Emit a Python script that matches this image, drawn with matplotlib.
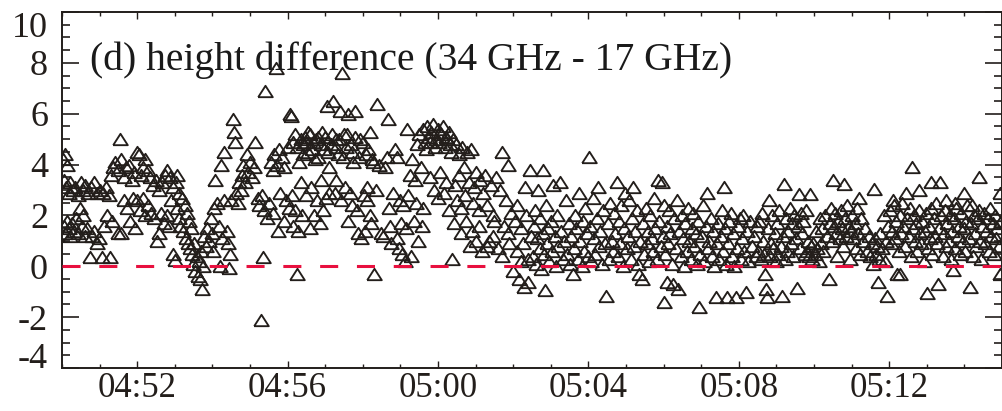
import numpy as np
import matplotlib
matplotlib.use("Agg")
import matplotlib.pyplot as plt
import matplotlib.dates as mdates

# -------------------------------
# Data: (minutes after 04:50, height difference)
# -------------------------------
start_time = np.datetime64("2000-01-01T04:50:00")

seg_0450 = [
    (0.03, 4.2), (0.08, 4.4), (0.14, 4.0), (0.05, 3.4), (0.10, 3.1), (0.18, 2.9), (0.22, 3.3),
    (0.28, 3.0), (0.35, 3.1), (0.42, 2.8), (0.50, 3.3), (0.56, 3.0), (0.62, 3.2), (0.70, 2.9),
    (0.78, 3.1), (0.85, 3.3), (0.92, 2.9), (1.00, 3.0), (1.10, 2.9), (1.18, 3.1), (1.25, 2.8),
    (0.04, 1.6), (0.09, 1.3), (0.12, 1.8), (0.18, 1.5), (0.22, 1.2), (0.27, 1.7), (0.32, 1.4),
    (0.38, 1.9), (0.42, 1.3), (0.48, 2.3), (0.52, 1.6), (0.56, 2.0), (0.60, 1.2), (0.66, 1.5),
    (0.74, 0.35), (0.80, 1.2), (0.86, 1.4), (0.92, 0.9), (0.98, 1.1), (1.06, 0.35), (1.12, 1.6),
    (1.20, 2.0), (1.28, 0.35), (1.32, 1.8),
    (1.30, 3.6), (1.35, 3.9), (1.42, 4.1), (1.48, 3.8), (1.54, 5.0), (1.58, 4.2), (1.65, 3.5),
    (1.70, 3.9), (1.78, 4.0), (1.85, 3.4), (1.92, 3.7), (2.00, 4.5), (2.05, 4.4), (2.10, 3.6),
    (2.15, 3.9), (2.22, 4.2), (2.28, 3.8), (2.35, 3.5), (2.42, 3.2), (2.50, 3.4), (2.58, 3.0),
    (2.65, 3.3), (2.75, 3.6), (2.80, 3.8), (2.88, 3.5), (2.95, 3.1), (3.02, 3.3), (3.05, 3.6),
    (3.12, 2.9), (3.20, 2.7), (3.27, 2.4), (3.32, 2.1), (3.38, 1.8), (3.42, 1.5),
    (1.50, 1.3), (1.58, 1.3), (1.65, 2.6), (1.72, 2.3), (1.80, 1.8), (1.88, 2.7), (1.95, 1.5),
    (2.00, 2.6), (2.08, 2.2), (2.15, 2.7), (2.20, 2.0), (2.30, 2.4), (2.38, 2.1), (2.45, 1.9),
    (2.52, 1.0), (2.58, 1.3), (2.62, 2.1), (2.70, 1.7), (2.78, 2.0), (2.85, 1.6), (2.90, 2.6),
    (2.95, 0.5), (3.00, 0.25), (3.05, 2.3), (3.10, 1.9), (3.15, 1.6), (3.22, 1.4), (3.30, 1.1),
    (3.35, 0.9), (3.40, 0.7), (3.45, 0.5), (3.48, 0.1), (3.52, 0.9), (3.55, -0.2), (3.58, 0.4),
    (3.62, -0.4), (3.65, 0.2), (3.68, -0.5), (3.70, 0.6), (3.72, -0.9), (3.75, 0.0), (3.78, 1.2),
    (3.82, 0.8), (3.85, 1.5), (3.90, 1.0), (3.95, 1.9), (4.00, 1.3), (4.02, 0.6), (4.05, 2.3),
    (4.08, 3.4), (4.12, 2.5), (4.18, 1.6), (4.20, 0.0), (4.22, 4.0), (4.25, 1.1), (4.30, 4.5),
    (4.32, 2.6), (4.38, 1.4), (4.42, 0.9), (4.45, -0.05), (4.48, 0.5),
]

seg_0454 = [
    (4.50, 2.6), (4.55, 5.8), (4.57, 5.3), (4.60, 4.9), (4.62, 2.9), (4.68, 2.5), (4.70, 3.3),
    (4.75, 3.0), (4.78, 3.6), (4.82, 4.0), (4.88, 3.3), (4.92, 4.4), (4.95, 3.7), (5.00, 4.1),
    (5.05, 3.5), (5.10, 3.9), (5.13, 4.9), (5.20, 2.7), (5.25, 2.4), (5.30, -2.1), (5.32, 2.8),
    (5.35, 0.35), (5.38, 2.2), (5.40, 6.9), (5.45, 1.9), (5.50, 2.5), (5.55, 4.1), (5.60, 3.8),
    (5.65, 4.4), (5.70, 7.8), (5.72, 4.0), (5.78, 4.6), (5.80, 2.9), (5.85, 4.3), (5.90, 3.9),
    (5.95, 2.6), (6.00, 4.7), (6.06, 6.0), (6.10, 5.9), (6.12, 2.8), (6.15, 1.6), (6.20, 2.2),
    (6.25, -0.3), (6.28, 1.4), (6.30, 4.1), (6.35, 3.3), (6.40, 4.8), (6.45, 5.1), (6.50, 2.8),
    (6.55, 4.5), (6.60, 5.2), (6.62, 3.1), (6.68, 4.9), (6.70, 2.0), (6.75, 5.0), (6.80, 4.3),
    (6.85, 1.7), (6.90, 3.4), (6.92, 5.3), (6.98, 4.6), (7.02, 2.7), (7.05, 6.3), (7.10, 3.9),
    (7.15, 4.8), (7.20, 6.5), (7.25, 2.9), (7.30, 5.0), (7.35, 4.4), (7.40, 6.1), (7.45, 7.6),
    (7.50, 5.2), (7.55, 4.7), (7.60, 6.0), (7.65, 2.9), (7.70, 4.5), (7.72, 2.4), (7.78, 6.1),
    (7.80, 5.1), (7.85, 2.2), (7.88, 1.3), (7.90, 4.3), (7.95, 1.1), (8.00, 4.9), (8.05, 1.4),
    (8.10, 3.1), (8.12, 2.6), (8.15, 4.6), (8.18, 2.0), (8.20, 5.3), (8.25, 4.2), (8.30, -0.3),
    (8.38, 6.4), (8.42, 4.0), (8.48, 1.3),
    (6.15, 4.9), (6.20, 5.2), (6.25, 4.7), (6.35, 5.0), (6.42, 4.4), (6.48, 4.9), (6.55, 5.3),
    (6.65, 4.6), (6.72, 4.2), (6.82, 5.1), (6.88, 4.8), (7.00, 5.1), (7.08, 4.5), (7.18, 5.2),
    (7.28, 4.7), (7.38, 5.0), (7.48, 4.3), (7.58, 5.2), (7.68, 4.8), (7.75, 4.1), (7.92, 5.0),
    (8.08, 4.4), (8.28, 4.1),
    (5.60, 2.1), (5.75, 1.4), (5.90, 1.8), (6.05, 2.3), (6.38, 2.0), (6.60, 1.5), (6.78, 2.6),
    (6.95, 2.2), (7.10, 2.9), (7.30, 3.4), (7.42, 2.6), (7.52, 3.1), (7.60, 1.8), (8.02, 2.8),
    (8.22, 1.7), (8.35, 3.0),
]

seg_0458 = [
    (8.55, 1.2), (8.60, 3.9), (8.65, 4.3), (8.67, 5.8), (8.70, 2.3), (8.72, 1.6), (8.75, 0.9),
    (8.80, 2.9), (8.85, 4.6), (8.90, 1.1), (8.92, 4.3), (8.95, 0.7), (9.00, 2.6), (9.02, 1.7),
    (9.05, 0.5), (9.08, 2.4), (9.12, 0.2), (9.15, 1.5), (9.17, 5.4), (9.20, 2.8), (9.25, 3.6),
    (9.28, 0.4), (9.30, 4.2), (9.35, 1.8), (9.38, 3.4), (9.42, 2.5), (9.45, 4.8), (9.48, 1.0),
    (9.50, 5.2), (9.55, 3.9), (9.58, 1.6), (9.60, 5.4), (9.65, 4.9), (9.70, 5.5), (9.75, 5.1),
    (9.80, 3.5), (9.82, 5.3), (9.88, 5.6), (9.90, 3.0), (9.95, 5.0), (10.00, 5.4), (10.05, 3.7),
    (10.08, 5.2), (10.12, 5.5), (10.15, 2.9), (10.20, 5.1), (10.22, 3.3), (10.28, 5.3),
    (10.32, 4.8), (10.37, 0.3), (10.40, 5.0), (10.45, 3.2), (10.48, 4.8), (10.50, 2.6),
    (10.55, 3.6), (10.60, 2.3), (10.65, 4.7), (10.70, 3.9), (10.72, 2.8), (10.78, 4.5),
    (10.82, 3.3), (10.85, 0.8), (10.88, 4.6), (10.92, 2.5), (10.95, 3.1), (11.00, 1.0),
    (11.02, 3.7), (11.08, 2.2), (11.12, 3.4), (11.18, 0.6), (11.20, 2.9), (11.25, 3.6),
    (11.30, 2.4), (11.35, 1.0), (11.40, 3.2), (11.45, 2.0), (11.50, 1.8), (11.55, 3.5),
    (11.60, 0.7), (11.65, 3.0), (11.70, 4.5), (11.75, 1.6), (11.80, 2.6), (11.85, 4.0),
    (11.90, 0.9), (11.95, 2.1), (12.00, -0.2), (12.05, 1.8), (12.10, 0.6), (12.15, -0.5),
    (12.20, 1.5), (12.25, 0.9), (12.30, -0.8), (12.32, 3.1), (12.35, 2.0), (12.40, -0.6),
    (12.45, 3.8), (12.48, 1.2),
    (9.68, 4.6), (9.78, 4.9), (9.92, 4.7), (10.02, 4.9), (10.18, 4.7), (10.25, 5.0),
    (10.35, 4.5), (10.55, 4.4), (9.60, 2.3), (10.00, 2.7), (10.30, 2.2), (10.42, 1.7),
    (10.60, 1.3), (10.75, 1.8), (10.90, 1.4), (11.10, 1.6), (11.30, 0.8), (11.45, 1.2),
    (11.70, 0.4), (11.85, 1.3), (12.10, 2.4), (12.20, 0.2), (12.40, 0.3),
]

seg_0502 = [
    (12.52, 0.4), (12.55, 1.6), (12.58, 2.2), (12.60, 0.1), (12.63, 1.1), (12.66, 3.0),
    (12.70, 0.7), (12.72, 1.9), (12.75, -0.1), (12.78, 1.3), (12.80, 3.8), (12.82, 0.5),
    (12.85, -0.95), (12.88, 2.4), (12.90, 0.9), (12.93, 1.5), (12.96, 0.2), (13.00, 1.8),
    (13.03, 0.6), (13.06, 3.2), (13.10, 1.2), (13.13, 0.0), (13.16, 2.0), (13.20, 0.8),
    (13.24, 3.3), (13.28, 1.4), (13.32, 0.3), (13.36, 1.0), (13.40, 2.6), (13.44, 0.5),
    (13.48, 1.7), (13.52, 0.1), (13.55, 1.2), (13.58, -0.3), (13.62, 0.7), (13.65, 2.0),
    (13.68, 1.5), (13.72, 0.3), (13.75, 2.9), (13.78, 1.0), (13.82, 0.0), (13.85, 1.8),
    (13.88, 0.6), (13.92, 2.3), (13.95, 1.3), (13.98, 0.4), (14.02, 4.3), (14.05, 1.6),
    (14.08, 0.2), (14.12, 2.7), (14.15, 1.1), (14.18, 0.5), (14.22, 1.9), (14.25, 3.1),
    (14.28, 0.8), (14.32, 1.4), (14.36, 0.1), (14.40, 2.2), (14.44, 0.9), (14.48, -1.15),
    (14.52, 1.7), (14.55, 0.3), (14.58, 2.5), (14.62, 1.0), (14.65, 0.6), (14.68, 2.1),
    (14.72, 1.3), (14.75, 3.3), (14.78, 0.4), (14.82, 1.8), (14.85, 0.9), (14.88, 2.4),
    (14.92, 0.0), (14.95, 1.5), (14.98, 2.9), (15.02, 0.7), (15.05, 1.2), (15.08, 2.6),
    (15.12, 0.3), (15.15, 1.9), (15.18, 3.1), (15.22, 0.8), (15.25, 1.4), (15.28, 2.2),
    (15.32, 0.1), (15.35, -0.3), (15.38, 1.0), (15.42, -0.5), (15.45, 1.7), (15.48, 0.5),
    (15.52, 2.3), (15.55, 0.9), (15.58, 1.4), (15.62, 0.2), (15.65, 2.0), (15.68, 1.1),
    (15.72, 0.6), (15.75, 2.7), (15.78, 1.5), (15.82, 0.3), (15.85, 3.4), (15.88, 1.8),
    (15.92, 0.8), (15.95, 3.3), (15.98, 1.2), (16.00, -1.4), (16.02, 2.4), (16.05, 0.5),
    (16.08, 1.6), (16.10, -0.6), (16.12, 0.9), (16.15, 2.2), (16.18, 1.3), (16.22, 0.1),
    (16.25, -0.7), (16.28, 1.9), (16.32, 0.7), (16.35, 2.6), (16.38, -0.9), (16.42, 1.4),
    (16.45, 0.4), (16.48, 2.0),
]

seg_0506 = [
    (16.52, 1.1), (16.55, 0.0), (16.58, 1.7), (16.62, 0.6), (16.65, 2.3), (16.68, 1.0),
    (16.72, 0.3), (16.75, 1.5), (16.78, 2.1), (16.82, 0.8), (16.85, 1.3), (16.88, 0.1),
    (16.92, 1.8), (16.95, -1.6), (16.98, 0.5), (17.02, 1.2), (17.05, 2.4), (17.08, 0.2),
    (17.12, 1.6), (17.15, 2.9), (17.18, 0.7), (17.22, 1.0), (17.25, 1.9), (17.28, 0.4),
    (17.32, 1.4), (17.35, 0.0), (17.40, -1.2), (17.42, 0.9), (17.45, 1.7), (17.48, 0.3),
    (17.52, 1.2), (17.55, 2.2), (17.58, 0.6), (17.60, 3.1), (17.62, 1.5), (17.65, 0.1),
    (17.68, -1.2), (17.72, 0.9), (17.75, 1.8), (17.78, 2.1), (17.82, 0.4), (17.85, 1.3),
    (17.88, 0.0), (17.92, -1.2), (17.95, 0.7), (17.98, 1.6), (18.02, 1.9), (18.05, 0.3),
    (18.08, 1.1), (18.12, 2.0), (18.15, 0.6), (18.20, -1.0), (18.22, 1.4), (18.25, 0.2),
    (18.30, 1.8), (18.35, 0.8), (18.40, 1.2), (18.45, 0.4), (18.48, 1.6),
    (18.52, 0.6), (18.55, 1.8), (18.58, 0.3), (18.62, 2.1), (18.65, 1.0), (18.68, 0.5),
    (18.70, -0.3), (18.72, -0.9), (18.75, -1.2), (18.78, 1.5), (18.80, 2.6), (18.82, 0.4),
    (18.85, 0.9), (18.88, 2.0), (18.92, 0.7), (18.95, 1.3), (18.98, 0.2), (19.02, 1.7),
    (19.05, 0.5), (19.08, 2.2), (19.12, 0.8), (19.15, -1.15), (19.18, 1.2), (19.20, 3.25),
    (19.22, 0.3), (19.25, 1.9), (19.28, 0.6), (19.32, 1.4), (19.35, 2.3), (19.38, 0.9),
    (19.42, 1.7), (19.45, 0.4), (19.48, 2.0), (19.52, 1.1), (19.55, -0.85), (19.58, 1.6),
    (19.60, 2.85), (19.62, 0.7), (19.65, 2.1), (19.68, 1.3), (19.72, 1.8), (19.75, 0.5),
    (19.78, 2.2), (19.82, 0.6), (19.85, 1.0), (19.88, 0.4), (19.90, 2.85), (19.92, 0.8),
    (19.95, 0.3), (19.98, 0.9),
]

seg_0510 = [
    (20.02, 0.5), (20.05, 1.4), (20.08, 0.7), (20.12, 0.2), (20.15, 1.9), (20.18, 0.9),
    (20.22, 1.5), (20.25, 0.6), (20.30, 2.0), (20.35, 1.2), (20.40, -0.5), (20.42, 1.7),
    (20.45, 2.3), (20.48, 1.0), (20.50, 3.4), (20.52, 1.6), (20.55, 2.1), (20.58, 1.3),
    (20.62, 0.4), (20.65, 1.8), (20.68, 1.1), (20.72, 2.2), (20.75, 1.5), (20.78, 0.8),
    (20.80, 3.25), (20.82, 1.9), (20.85, 1.2), (20.88, 2.4), (20.92, 1.6), (20.95, 0.3),
    (20.98, 1.4), (21.02, 2.0), (21.05, 1.1), (21.08, 1.7), (21.12, 0.7), (21.15, 2.3),
    (21.18, 1.3), (21.20, 2.7), (21.22, 0.5), (21.25, 1.9), (21.30, 1.0), (21.35, 1.5),
    (21.40, 0.6), (21.45, 1.2), (21.50, 0.4), (21.55, 0.9), (21.58, 0.1), (21.60, 3.05),
    (21.62, 1.1), (21.65, 0.5), (21.68, 0.8), (21.70, -0.6), (21.72, 0.3), (21.75, 1.3),
    (21.80, 0.7), (21.85, 2.0), (21.88, 0.2), (21.92, 1.0), (21.95, -1.15), (21.98, 1.6),
    (22.02, 2.2), (22.05, 0.9), (22.08, 1.4), (22.10, 2.6), (22.12, 2.4), (22.15, 1.1),
    (22.18, 1.8), (22.20, -0.3), (22.25, 0.6), (22.28, 2.0), (22.30, -0.3), (22.32, 1.3),
    (22.35, 2.5), (22.38, 1.6), (22.42, 0.8), (22.45, 2.9), (22.48, 1.9), (22.52, 1.2),
    (22.55, 2.3), (22.58, 0.4), (22.60, 3.9), (22.62, 1.5), (22.65, 2.0), (22.68, 1.0),
    (22.72, 1.7), (22.75, 0.6), (22.78, 2.2), (22.80, 3.0), (22.82, 1.3), (22.85, 0.9),
    (22.88, 1.8), (22.92, 0.2), (22.95, 1.4), (22.98, 2.1),
    (23.00, -1.05), (23.02, 0.7), (23.05, 1.6), (23.08, 1.1), (23.10, 3.3), (23.12, 2.3),
    (23.15, 0.5), (23.18, 1.9), (23.22, 1.2), (23.25, 2.5), (23.28, 0.9), (23.30, -0.7),
    (23.32, 1.5), (23.35, 3.3), (23.38, 2.0), (23.42, 0.4), (23.45, 1.3), (23.48, 2.2),
    (23.50, 2.6), (23.52, 0.8), (23.55, 1.7), (23.58, 1.0), (23.62, 2.0), (23.65, 0.3),
    (23.68, 1.4), (23.70, -0.15), (23.72, 1.9), (23.74, 2.5), (23.75, 0.7), (23.78, 2.3),
    (23.82, 1.2), (23.85, 1.6), (23.88, 0.5), (23.92, 2.1), (23.95, 1.0), (23.98, 1.5),
    (24.00, 2.9), (24.02, 0.6), (24.05, 1.8), (24.08, 2.4), (24.12, 1.1), (24.15, -0.8),
    (24.18, 1.7), (24.20, 2.4), (24.22, 0.4), (24.25, 2.0), (24.28, 1.3), (24.32, 0.8),
    (24.35, 1.9), (24.38, 2.2), (24.40, 3.5), (24.42, 1.0), (24.45, 0.3), (24.48, 1.6),
    (24.52, 2.1), (24.55, 0.9), (24.58, 1.4), (24.62, 1.9), (24.65, 0.6), (24.68, 2.3),
    (24.72, 1.2), (24.75, 1.7), (24.78, 0.5), (24.82, 2.0), (24.85, 1.1), (24.88, 1.5),
    (24.92, 0.8), (24.95, 2.9), (24.96, -0.3), (24.98, 1.8),
]

segments = [seg_0450, seg_0454, seg_0458, seg_0502, seg_0506, seg_0510]

y_ticks = [-4, -2, 0, 2, 4, 6, 8, 10]
label_text = "(d) height difference (34 GHz - 17 GHz)"

# -------------------------------
# Figure
# -------------------------------
plt.rcParams["font.family"] = ["Liberation Serif", "DejaVu Serif"]
plt.rcParams["lines.scale_dashes"] = False

fig = plt.figure(figsize=(10.03, 4.11), dpi=100)
ax = fig.add_axes([62 / 1003, 43 / 411, 940 / 1003, 356 / 411])

ink = "#231e1b"
# open triangle, a bit flatter than the default '^'
tri = [(-1, -0.78), (1, -0.78), (0, 0.78), (-1, -0.78)]

for seg in segments:
    mins = np.array([p[0] for p in seg])
    vals = np.array([p[1] for p in seg])
    times = start_time + (mins * 60 * 1000).astype("timedelta64[ms]")
    ax.plot(times.astype("datetime64[ms]").astype(object), vals, linestyle="none",
            marker=tri, markersize=10.5, markerfacecolor="none",
            markeredgecolor=ink, markeredgewidth=1.35, zorder=2)

# zero reference line
ax.axhline(0, color="#e8103f", linewidth=2.2, dashes=(13, 13.5), zorder=3)

t0 = start_time.astype("datetime64[ms]").astype(object)
t1 = (start_time + np.timedelta64(25, "m")).astype("datetime64[ms]").astype(object)
ax.set_xlim(t0, t1)
ax.set_ylim(-4, 10)

ax.xaxis.set_major_locator(mdates.MinuteLocator(byminute=range(0, 60, 4)))
ax.xaxis.set_minor_locator(mdates.MinuteLocator(interval=1))
ax.xaxis.set_major_formatter(mdates.DateFormatter("%H:%M"))

ax.set_yticks(y_ticks)
ax.set_yticklabels([str(v) for v in y_ticks])
ax.yaxis.set_minor_locator(plt.MultipleLocator(0.5))

ax.tick_params(axis="both", which="both", direction="in", top=True, right=True, colors=ink)
ax.tick_params(axis="x", which="major", length=5, width=1.0, labelsize=25, pad=3)
ax.tick_params(axis="x", which="minor", length=3, width=1.0)
ax.tick_params(axis="y", which="major", length=12, width=1.2, labelsize=26, pad=10)
ax.tick_params(axis="y", which="minor", length=5.5, width=1.2)

for spine in ax.spines.values():
    spine.set_color(ink)
    spine.set_linewidth(1.4)

# end labels pushed inside the frame, as in the original
ylabels = ax.get_yticklabels()
ylabels[-1].set_verticalalignment("top")
ylabels[0].set_verticalalignment("baseline")

ax.text(0.03, 7.7, label_text, transform=ax.get_yaxis_transform(),
        fontsize=28.5, color="#1a1a1a", va="baseline", ha="left")

fig.savefig("out.png", dpi=100)
